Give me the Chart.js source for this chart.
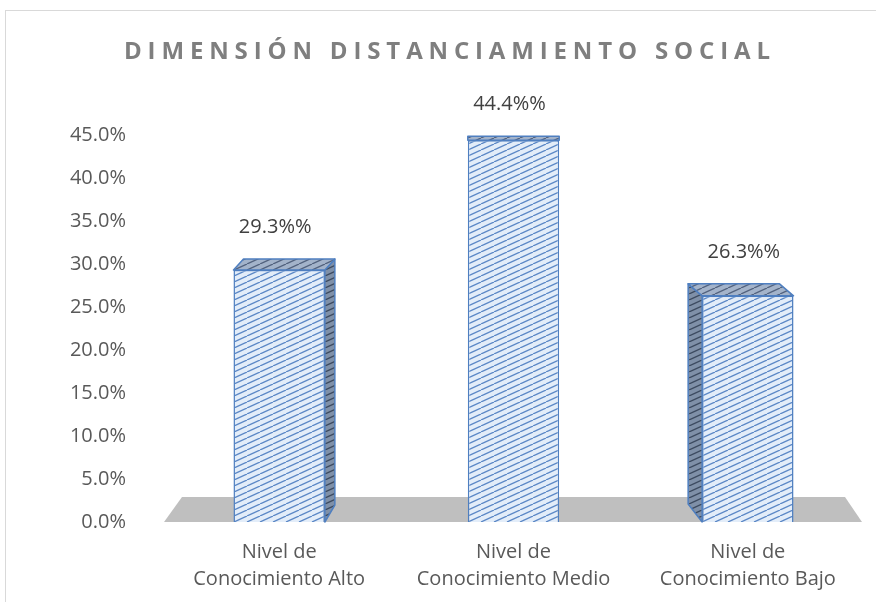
<!DOCTYPE html>
<html><head><meta charset="utf-8">
<script src="https://cdn.jsdelivr.net/npm/chart.js@4.4.1/dist/chart.umd.min.js"></script>
<style>html,body{margin:0;padding:0;background:#fff}#wrap{width:876px;height:602px;position:relative}</style>
</head><body><div id="wrap"><canvas id="c" width="876" height="602"></canvas></div>
<script>
const titleText = 'DIMENSIÓN DISTANCIAMIENTO SOCIAL';
const categories = [['Nivel de', 'Conocimiento Alto'], ['Nivel de', 'Conocimiento Medio'], ['Nivel de', 'Conocimiento Bajo']];
const values = [29.3, 44.4, 26.3];
const valueLabels = ['29.3%%', '44.4%%', '26.3%%'];
const yMin = 0, yMax = 45, yStep = 5;

// 3D look (style only)
const depthX = [10, 0, -14];
const depthY = [11, 4, 12];

const canvas = document.getElementById('c');
const ctx = canvas.getContext('2d');

function makePattern(bg, line, w, h, lw) {
  const c = document.createElement('canvas');
  c.width = w; c.height = h;
  const g = c.getContext('2d');
  g.fillStyle = bg; g.fillRect(0, 0, w, h);
  g.strokeStyle = line; g.lineWidth = lw;
  for (let k = -1; k <= 1; k++) {
    g.beginPath(); g.moveTo(k * w, h); g.lineTo(k * w + w, 0); g.stroke();
  }
  return ctx.createPattern(c, 'repeat');
}
const frontPat = makePattern('#e3edf9', '#5b87c6', 13, 6, 1.3);
const topPat = makePattern('#a3b3ca', '#52627e', 13, 6, 1.3);
const sidePat = makePattern('#7f90a8', '#3c4a60', 13, 6, 1.3);
const edgeColor = '#4f7fc0';

const decor = {
  id: 'decor',
  beforeDraw(chart) {
    const c = chart.ctx;
    c.save();
    c.strokeStyle = '#d9d9d9'; c.lineWidth = 1;
    c.strokeRect(5.5, 10.5, 1000, 1000);
    c.restore();
  },
  beforeDatasetsDraw(chart) {
    const c = chart.ctx, a = chart.chartArea;
    const base = chart.scales.y.getPixelForValue(0);
    c.save();
    c.fillStyle = '#bfbfbf';
    c.beginPath();
    c.moveTo(a.left + 2, base);
    c.lineTo(a.right - 3, base);
    c.lineTo(a.right - 20, base - 25);
    c.lineTo(a.left + 20, base - 25);
    c.closePath(); c.fill();
    c.restore();
  },
  afterDatasetsDraw(chart) {
    const c = chart.ctx;
    const meta = chart.getDatasetMeta(0);
    c.save();
    c.lineJoin = 'round';
    meta.data.forEach((bar, i) => {
      const p = bar.getProps(['x', 'y', 'base', 'width'], true);
      const x0 = p.x - p.width / 2, x1 = p.x + p.width / 2;
      const top = p.y, bot = p.base;
      const dx = depthX[i], dy = depthY[i];
      c.strokeStyle = edgeColor; c.lineWidth = 1.5;
      if (dx !== 0) {
        const sx = dx > 0 ? x1 : x0;
        c.beginPath();
        c.moveTo(sx, top); c.lineTo(sx + dx, top - dy);
        c.lineTo(sx + dx, bot - dy - 6); c.lineTo(sx, bot);
        c.closePath();
        c.fillStyle = sidePat; c.fill(); c.stroke();
      }
      c.beginPath();
      c.moveTo(x0, top); c.lineTo(x1, top);
      c.lineTo(x1 + dx, top - dy); c.lineTo(x0 + dx, top - dy);
      c.closePath();
      c.fillStyle = topPat; c.fill(); c.stroke();
      c.fillStyle = '#404040';
      c.font = '20px "Open Sans"';
      c.textAlign = 'center'; c.textBaseline = 'middle';
      c.fillText(valueLabels[i], p.x - 4, top - dy - 32);
    });
    c.restore();
  },
  afterDraw(chart) {
    const c = chart.ctx;
    c.save();
    c.font = 'bold 24px "Open Sans"';
    c.fillStyle = '#7f7f7f';
    c.textBaseline = 'middle';
    c.textAlign = 'left';
    const targetW = 646;
    const w0 = c.measureText(titleText).width;
    const n = titleText.length;
    const sp = (targetW - w0) / (n - 1);
    let x = 447 - targetW / 2;
    for (const ch of titleText) {
      c.fillText(ch, x, 52);
      x += c.measureText(ch).width + sp;
    }
    c.restore();
  }
};

new Chart(canvas, {
  type: 'bar',
  data: {
    labels: categories,
    datasets: [{
      data: values,
      backgroundColor: frontPat,
      borderColor: edgeColor,
      borderWidth: 1.5,
      barPercentage: 0.39,
      categoryPercentage: 1
    }]
  },
  options: {
    responsive: false,
    animation: false,
    devicePixelRatio: 1,
    layout: { padding: { top: 135, right: 11, left: 0, bottom: 0 } },
    plugins: { legend: { display: false }, tooltip: { enabled: false }, title: { display: false } },
    scales: {
      x: {
        grid: { display: false, drawTicks: false },
        border: { display: false },
        ticks: { color: '#595959', font: { family: 'Open Sans', size: 20, lineHeight: 1.35 }, padding: 17, maxRotation: 0 },
        afterFit(s) { s.height = 80; }
      },
      y: {
        min: yMin, max: yMax,
        grid: { display: false, drawTicks: false },
        border: { display: false },
        ticks: { stepSize: yStep, color: '#595959', font: { family: 'Open Sans', size: 20 }, padding: 36,
          callback: v => v.toFixed(1) + '%' },
        afterFit(s) { s.width = 162; }
      }
    }
  },
  plugins: [decor]
});
</script>
</body></html>
